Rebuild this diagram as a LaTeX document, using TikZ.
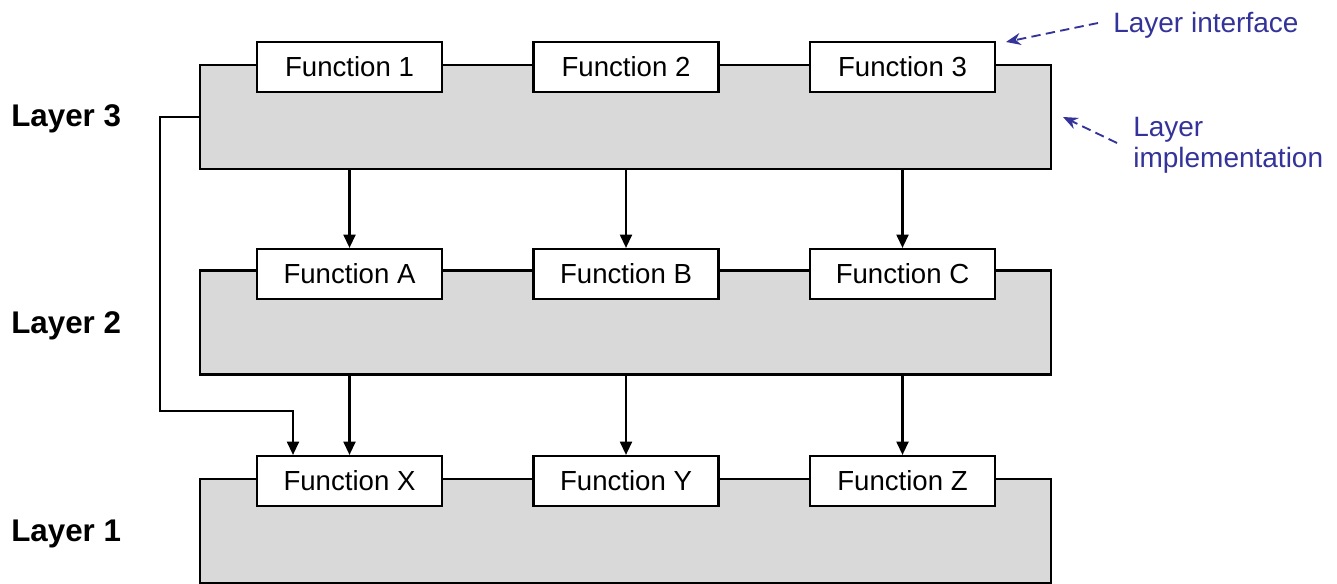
\documentclass[tikz,border=0pt]{standalone}
\usepackage{fontspec}
\setmainfont{Liberation Sans}
\usetikzlibrary{arrows.meta}
\definecolor{layergray}{RGB}{217,217,217}
\definecolor{annblue}{RGB}{51,51,153}
\tikzset{
  layerbox/.style={draw=black, fill=layergray, line width=1.6pt, minimum width=638.25pt, minimum height=78pt, inner sep=0pt},
  funcbox/.style={draw=black, fill=white, line width=1.6pt, minimum width=138.75pt, minimum height=37.5pt, inner sep=0pt, font=\fontsize{20.7}{24}\selectfont},
  layerlabel/.style={anchor=base west, inner sep=0pt, font=\fontsize{23.5}{28}\selectfont\bfseries},
  annlabel/.style={anchor=base west, inner sep=0pt, text=annblue, align=left, font=\fontsize{21}{23.3}\selectfont},
  flow/.style={line width=1.6pt, -{Triangle[length=10pt,width=9pt]}},
  annarrow/.style={draw=annblue, line width=1.4pt, dash pattern=on 7pt off 4pt, -{Stealth[length=11pt,width=9pt]}},
}
\begin{document}
\begin{tikzpicture}[x=0.75pt,y=-0.75pt]
\useasboundingbox (0,0) rectangle (1337,584);
% layers
\node[layerbox] (L3) at (625.5,117) {};
\node[layerbox] (L2) at (625.5,322.5) {};
\node[layerbox] (L1) at (625.5,531) {};
% functions
\node[funcbox] (F1) at (349.5,67) {Function 1};
\node[funcbox] (F2) at (626,67) {Function 2};
\node[funcbox] (F3) at (902.5,67) {Function 3};
\node[funcbox] (FA) at (349.5,274) {Function A};
\node[funcbox] (FB) at (626,274) {Function B};
\node[funcbox] (FC) at (902.5,274) {Function C};
\node[funcbox] (FX) at (349.5,481) {Function X};
\node[funcbox] (FY) at (626,481) {Function Y};
\node[funcbox] (FZ) at (902.5,481) {Function Z};
% layer labels
\node[layerlabel] (T3) at (11,127) {Layer 3};
\node[layerlabel] (T2) at (11,334) {Layer 2};
\node[layerlabel] (T1) at (11,541) {Layer 1};
% arrows between layers
\draw[flow] (F1 |- L3.south) -- (FA.north);
\draw[flow] (F2 |- L3.south) -- (FB.north);
\draw[flow] (F3 |- L3.south) -- (FC.north);
\draw[flow] (FA |- L2.south) -- (FX.north);
\draw[flow] (FB |- L2.south) -- (FY.north);
\draw[flow] (FC |- L2.south) -- (FZ.north);
% bypass connector
\coordinate (k1) at (160,411);
\coordinate (k2) at (293,411);
\draw[flow] (L3.west) -| (k1) -- (k2) -- (k2 |- FX.north);
% annotations
\node[annlabel] (AI) at (1113,33) {Layer interface};
\node[annlabel] (AM) at (1133,168) {Layer\\implementation};
\coordinate (ai0) at (1098,23);
\coordinate (ai1) at (1006,42);
\coordinate (am0) at (1117,143);
\coordinate (am1) at (1063,117);
\draw[annarrow] (ai0) -- (ai1);
\draw[annarrow] (am0) -- (am1);
\end{tikzpicture}
\end{document}
